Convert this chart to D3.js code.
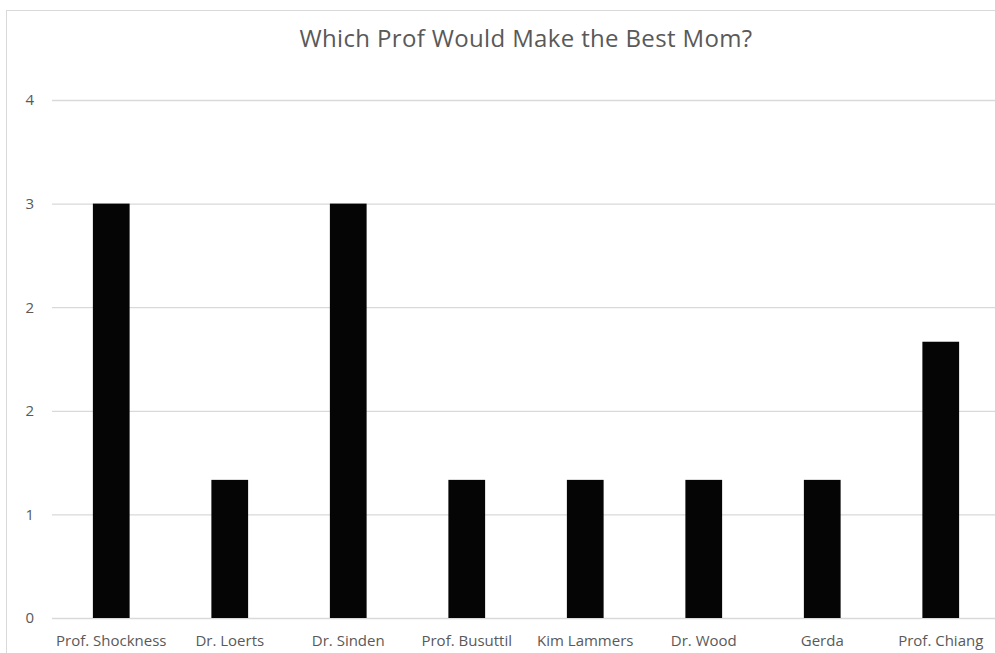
<!DOCTYPE html>
<html>
<head>
<meta charset="utf-8">
<script src="https://cdn.jsdelivr.net/npm/d3@7"></script>
<style>
  body { margin: 0; background: #fff; }
  text { font-family: "Open Sans", Lato, sans-serif; fill: #595959; }
</style>
</head>
<body>
<div id="chart"></div>
<script>
// chart values
let names = ["Prof. Shockness", "Dr. Loerts", "Dr. Sinden", "Prof. Busuttil",
             "Kim Lammers", "Dr. Wood", "Gerda", "Prof. Chiang"];
let votes = [3, 1, 3, 1, 1, 1, 1, 2];
let yTicks = [0, 0.75, 1.5, 2.25, 3, 3.75];
let title = "Which Prof Would Make the Best Mom?";

let width = 995, height = 653;
let margin = {left: 52, right: -5, top: 100, bottom: 35};

let svg = d3.select("#chart").append("svg")
  .attr("width", width)
  .attr("height", height);

// outer chart border (only left + top visible in the crop)
svg.append("rect")
  .attr("x", 6.5).attr("y", 10.5)
  .attr("width", width + 40).attr("height", height + 40)
  .attr("fill", "none")
  .attr("stroke", "#d9d9d9");

let xScale = d3.scaleBand()
  .domain(names)
  .range([margin.left, width - margin.right])
  .paddingInner(0.69)
  .paddingOuter(0.345);

let yScale = d3.scaleLinear()
  .domain([0, 3.75])
  .range([height - margin.bottom, margin.top]);

// gridlines + y labels
let yAxis = d3.axisLeft(yScale)
  .tickValues(yTicks)
  .tickFormat(d3.format(".0f"))
  .tickSize(-(width - margin.right - margin.left))
  .tickPadding(18);

let gy = svg.append("g")
  .attr("transform", "translate(" + margin.left + ",0)")
  .call(yAxis);
gy.select(".domain").remove();
gy.selectAll(".tick line").attr("stroke", "#d9d9d9").attr("stroke-width", 1.3);
gy.selectAll(".tick text").attr("font-size", 15).attr("fill", "#595959");

// bars
svg.append("g")
  .selectAll("rect")
  .data(votes)
  .enter()
  .append("rect")
  .attr("x", function(d, i) { return xScale(names[i]); })
  .attr("y", function(d) { return yScale(d); })
  .attr("width", xScale.bandwidth())
  .attr("height", function(d) { return yScale(0) - yScale(d); })
  .attr("fill", "#050505");

// x labels
let xAxis = d3.axisBottom(xScale).tickSize(0).tickPadding(17);
let gx = svg.append("g")
  .attr("transform", "translate(0," + yScale(0) + ")")
  .call(xAxis);
gx.select(".domain").remove();
gx.selectAll(".tick text").attr("font-size", 15).attr("fill", "#595959");

// title
svg.append("text")
  .attr("x", 526)
  .attr("y", 47)
  .attr("text-anchor", "middle")
  .attr("font-size", 24)
  .attr("letter-spacing", 0.35)
  .text(title);
</script>
</body>
</html>
